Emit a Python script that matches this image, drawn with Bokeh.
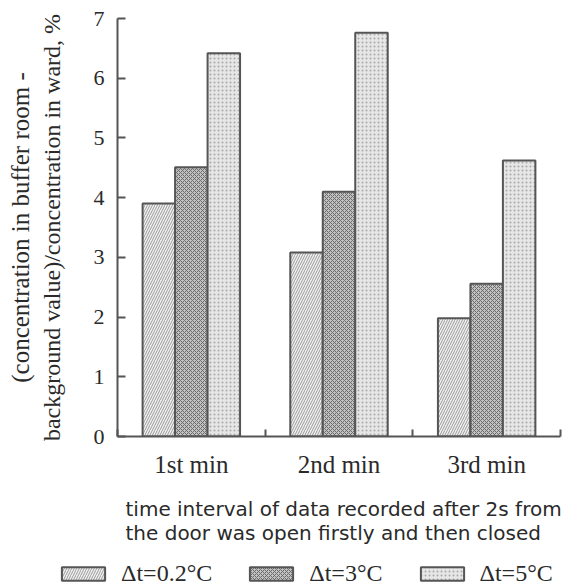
from bokeh.plotting import figure
from bokeh.layouts import column
from bokeh.models import (FixedTicker, LinearAxis, Legend, LegendItem, Title,
                          ColumnDataSource, Range1d)
from bokeh.embed import file_html
from bokeh.resources import INLINE

# ---- data ----
categories = ["1st min", "2nd min", "3rd min"]
series_names = ["Δt=0.2°C", "Δt=3°C", "Δt=5°C"]
dt_02 = [3.90, 3.08, 1.98]
dt_3 = [4.51, 4.10, 2.56]
dt_5 = [6.42, 6.76, 4.62]
y_ticks = [0, 1, 2, 3, 4, 5, 6, 7]
y_label_1 = "(concentration in buffer room -"
y_label_2 = "background value)/concentration in ward, %"
x_label_1 = "time interval of data recorded after 2s from"
x_label_2 = "the door was open firstly and then closed"

SERIF = "Liberation Serif"
SANS = "DejaVu Sans"
INK = "#2a2a2a"
LINE = "#555555"

p = figure(width=566, height=558, x_range=Range1d(0, len(categories)),
           y_range=Range1d(0, 7), output_backend="svg", toolbar_location=None,
           min_border_left=117, min_border_right=6, min_border_top=18,
           min_border_bottom=122)
p.xgrid.visible = False
p.ygrid.visible = False
p.outline_line_color = None
p.frame_align = False

styles = [
    dict(fill_color="#f0f0f0", hatch_pattern="/", hatch_color="#9a9a9a",
         hatch_scale=5, hatch_weight=1),
    dict(fill_color="#c2c2c2", hatch_pattern="x", hatch_color="#6a6a6a",
         hatch_scale=4, hatch_weight=1),
    dict(fill_color="#e6e6e6", hatch_pattern=".", hatch_color="#a8a8a8",
         hatch_scale=4, hatch_weight=1),
]
bar_w = 0.22
offsets = [-bar_w, 0.0, bar_w]
centers = [i + 0.5 for i in range(len(categories))]

sources = []
for vals, off, st in zip([dt_02, dt_3, dt_5], offsets, styles):
    src = ColumnDataSource(dict(x=[c + off for c in centers], top=vals))
    sources.append(src)
    p.vbar(x="x", top="top", bottom=0, width=bar_w, source=src,
           line_color=LINE, line_width=2, **st)

# x axis
xa = p.xaxis[0]
xa.ticker = FixedTicker(ticks=centers,
                        minor_ticks=list(range(len(categories) + 1)))
xa.major_label_overrides = {c: lab for c, lab in zip(centers, categories)}
xa.major_tick_in = 0
xa.major_tick_out = 0
xa.minor_tick_in = 7
xa.minor_tick_out = 0
xa.minor_tick_line_color = LINE
xa.minor_tick_line_width = 2
xa.axis_line_color = LINE
xa.axis_line_width = 2
xa.major_label_standoff = 14
xa.major_label_text_font = SERIF
xa.major_label_text_font_size = "25px"
xa.major_label_text_color = INK

# y axis
ya = p.yaxis[0]
ya.ticker = FixedTicker(ticks=y_ticks, minor_ticks=[])
ya.major_tick_in = 8
ya.major_tick_out = 0
ya.major_tick_line_color = LINE
ya.major_tick_line_width = 2
ya.axis_line_color = LINE
ya.axis_line_width = 2
ya.major_label_standoff = 13
ya.major_label_text_font = SERIF
ya.major_label_text_font_size = "22px"
ya.major_label_text_color = INK
ya.axis_label = y_label_2
ya.axis_label_text_font = SERIF
ya.axis_label_text_font_style = "normal"
ya.axis_label_text_font_size = "24px"
ya.axis_label_text_color = INK
ya.axis_label_standoff = 26

outer = LinearAxis(ticker=FixedTicker(ticks=[], minor_ticks=[]),
                   axis_line_color=None, major_tick_line_color=None,
                   minor_tick_line_color=None, axis_label=y_label_1,
                   axis_label_text_font=SERIF,
                   axis_label_text_font_style="normal",
                   axis_label_text_font_size="25px",
                   axis_label_text_color=INK, axis_label_standoff=2)
p.add_layout(outer, "left")

# x title (two lines)
t = Title(text=x_label_1 + "\n" + x_label_2, align="left", text_font=SANS,
          text_font_size="20px", text_font_style="normal", text_color=INK,
          standoff=28, offset=8)
p.add_layout(t, "below")

# legend strip (separate small figure below); its bar renderers are hidden
# (legend click_policy "none" still draws their swatches)
lg = figure(width=566, height=29, x_range=Range1d(3.5, 4.5),
            y_range=Range1d(0, 7), output_backend="svg",
            toolbar_location=None, x_axis_location=None, y_axis_location=None,
            min_border_left=0, min_border_right=0, min_border_top=0,
            min_border_bottom=0)
lg.xgrid.visible = False
lg.ygrid.visible = False
lg.outline_line_color = None
lg.frame_align = False
lg_renderers = []
for src, st in zip(sources, styles):
    r = lg.vbar(x="x", top="top", bottom=0, width=bar_w, source=src,
                line_color=LINE, line_width=2, **st)
    r.visible = False
    lg_renderers.append(r)
items = [LegendItem(label=n, renderers=[r])
         for n, r in zip(series_names, lg_renderers)]
legend = Legend(items=items, orientation="horizontal", location=(56, 0),
                glyph_width=54, glyph_height=17, label_standoff=11, spacing=32,
                padding=0, margin=0, border_line_color=None,
                background_fill_alpha=0, label_text_font=SERIF,
                label_text_font_size="24px", label_text_color=INK,
                click_policy="none")
lg.add_layout(legend, "center")

layout = column(p, lg, spacing=0)
open("out.html", "w").write(file_html(layout, INLINE))
